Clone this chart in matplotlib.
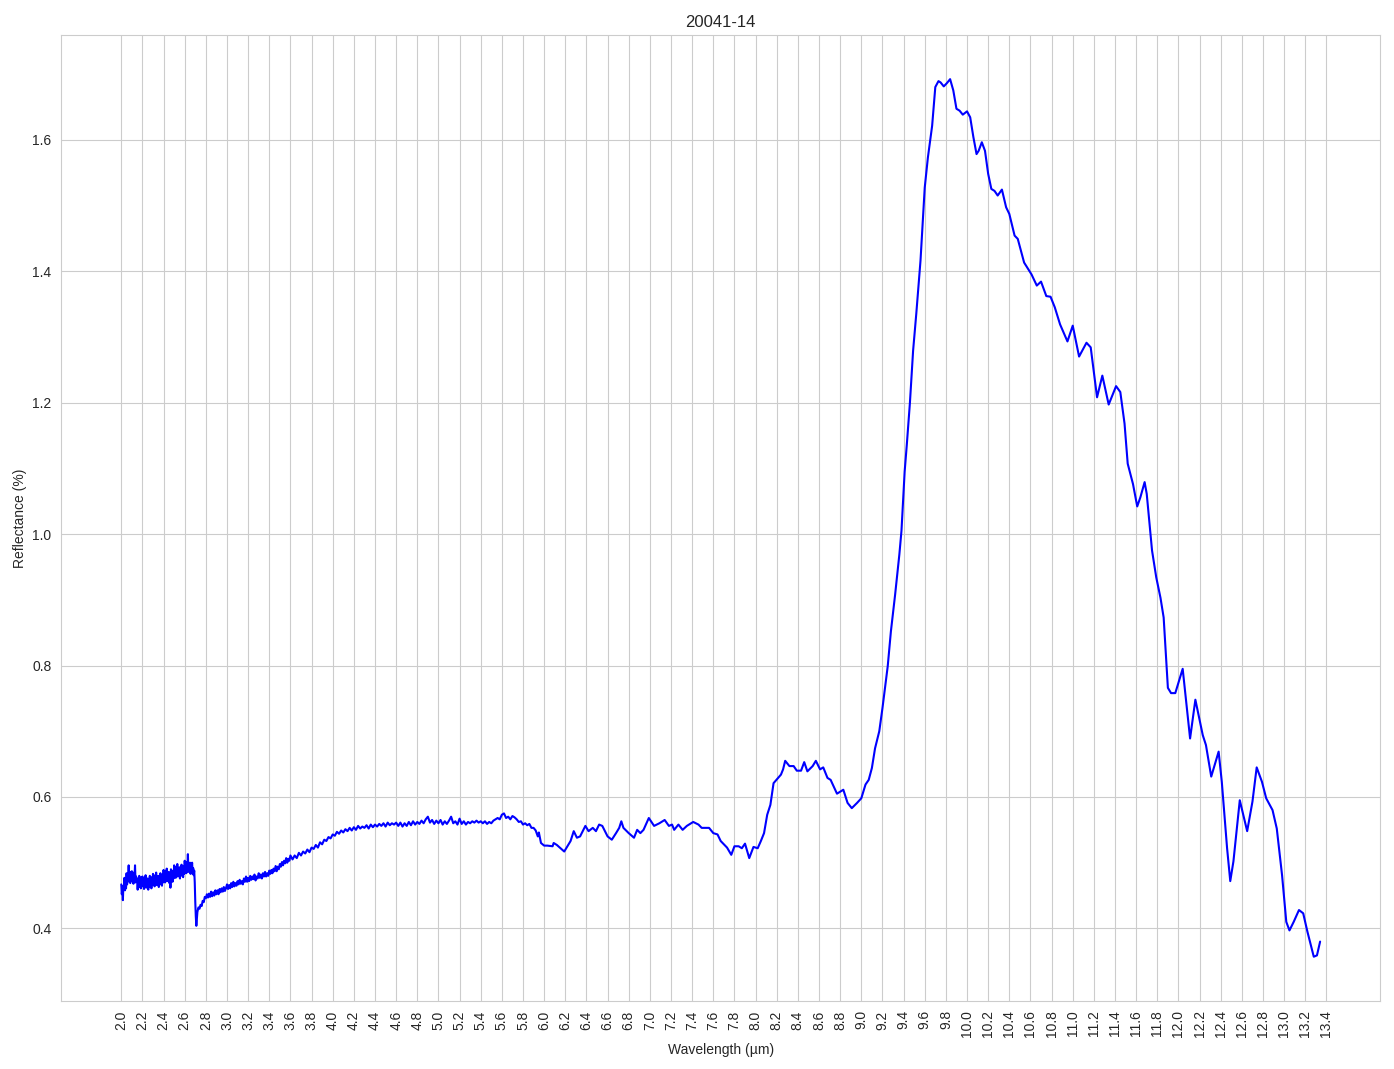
import numpy as np
import matplotlib
matplotlib.use("Agg")
import matplotlib.pyplot as plt
import seaborn as sns

sample_name = "20041-14"

# noisy start of the spectrum (2.0 - 2.7 um)
wl_a = [2.000, 2.005, 2.010, 2.015, 2.020, 2.025, 2.030, 2.035, 2.040, 2.045,
        2.050, 2.055, 2.060, 2.065, 2.070, 2.075, 2.080, 2.085, 2.090, 2.095,
        2.100, 2.105, 2.110, 2.115, 2.120, 2.125, 2.130, 2.135, 2.140, 2.145,
        2.150, 2.155, 2.160, 2.165, 2.170, 2.175, 2.180, 2.185, 2.190, 2.195,
        2.200, 2.205, 2.210, 2.215, 2.220, 2.225, 2.230, 2.235, 2.240, 2.245,
        2.250, 2.255, 2.260, 2.265, 2.270, 2.275, 2.280, 2.285, 2.290, 2.295,
        2.300, 2.305, 2.310, 2.315, 2.320, 2.325, 2.330, 2.335, 2.340, 2.345,
        2.350, 2.355, 2.360, 2.365, 2.370, 2.375, 2.380, 2.385, 2.390, 2.395,
        2.400, 2.405, 2.410, 2.415, 2.420, 2.425, 2.430, 2.435, 2.440, 2.445,
        2.450, 2.455, 2.460, 2.465, 2.470, 2.475, 2.480, 2.485, 2.490, 2.495,
        2.500, 2.505, 2.510, 2.515, 2.520, 2.525, 2.530, 2.535, 2.540, 2.545,
        2.550, 2.555, 2.560, 2.565, 2.570, 2.575, 2.580, 2.585, 2.590, 2.595,
        2.600, 2.605, 2.610, 2.615, 2.620, 2.625, 2.630, 2.635, 2.640, 2.645,
        2.650, 2.655, 2.660, 2.665, 2.670, 2.675, 2.680, 2.685, 2.690, 2.695,
        2.700, 2.705]
refl_a = [0.467, 0.452, 0.461, 0.443, 0.465, 0.464, 0.477, 0.458, 0.467, 0.461,
          0.484, 0.467, 0.482, 0.475, 0.496, 0.471, 0.480, 0.469, 0.486, 0.474,
          0.487, 0.472, 0.481, 0.468, 0.485, 0.476, 0.496, 0.470, 0.479, 0.473,
          0.476, 0.459, 0.474, 0.467, 0.480, 0.463, 0.472, 0.461, 0.478, 0.466,
          0.479, 0.464, 0.473, 0.460, 0.477, 0.468, 0.481, 0.462, 0.471, 0.465,
          0.476, 0.459, 0.474, 0.467, 0.480, 0.463, 0.472, 0.461, 0.478, 0.466,
          0.483, 0.468, 0.477, 0.464, 0.481, 0.472, 0.485, 0.466, 0.475, 0.469,
          0.480, 0.463, 0.478, 0.471, 0.484, 0.467, 0.476, 0.465, 0.482, 0.470,
          0.489, 0.474, 0.483, 0.470, 0.487, 0.478, 0.491, 0.472, 0.481, 0.475,
          0.486, 0.469, 0.484, 0.462, 0.490, 0.473, 0.482, 0.471, 0.488, 0.476,
          0.496, 0.481, 0.490, 0.477, 0.494, 0.485, 0.498, 0.479, 0.488, 0.482,
          0.493, 0.476, 0.491, 0.484, 0.497, 0.480, 0.489, 0.478, 0.495, 0.483,
          0.503, 0.488, 0.497, 0.484, 0.501, 0.492, 0.513, 0.486, 0.495, 0.489,
          0.500, 0.483, 0.498, 0.491, 0.500, 0.483, 0.492, 0.481, 0.488, 0.470,
          0.440, 0.418]

# drop and slow rise (2.71 - 4.6 um)
wl_b = [2.71, 2.72, 2.73, 2.74, 2.75, 2.76, 2.77, 2.78, 2.79, 2.80,
        2.81, 2.82, 2.83, 2.84, 2.85, 2.86, 2.87, 2.88, 2.89, 2.90,
        2.91, 2.92, 2.93, 2.94, 2.95, 2.96, 2.97, 2.98, 2.99, 3.00,
        3.01, 3.02, 3.03, 3.04, 3.05, 3.06, 3.07, 3.08, 3.09, 3.10,
        3.11, 3.12, 3.13, 3.14, 3.15, 3.16, 3.17, 3.18, 3.19, 3.20,
        3.21, 3.22, 3.23, 3.24, 3.25, 3.26, 3.27, 3.28, 3.29, 3.30,
        3.31, 3.32, 3.33, 3.34, 3.35, 3.36, 3.37, 3.38, 3.39, 3.40,
        3.41, 3.42, 3.43, 3.44, 3.45, 3.46, 3.47, 3.48, 3.49, 3.50,
        3.51, 3.52, 3.53, 3.54, 3.55, 3.56, 3.57, 3.58, 3.59, 3.60,
        3.62, 3.64, 3.66, 3.68, 3.70, 3.72, 3.74, 3.76, 3.78, 3.80,
        3.82, 3.84, 3.86, 3.88, 3.90, 3.92, 3.94, 3.96, 3.98, 4.00,
        4.02, 4.04, 4.06, 4.08, 4.10, 4.12, 4.14, 4.16, 4.18, 4.20,
        4.22, 4.24, 4.26, 4.28, 4.30, 4.32, 4.34, 4.36, 4.38, 4.40,
        4.42, 4.44, 4.46, 4.48, 4.50, 4.52, 4.54, 4.56, 4.58, 4.60]
refl_b = [0.404, 0.425, 0.432, 0.430, 0.436, 0.434, 0.442, 0.440, 0.448, 0.446,
          0.452, 0.447, 0.453, 0.448, 0.456, 0.449, 0.455, 0.450, 0.458, 0.452,
          0.458, 0.452, 0.460, 0.455, 0.461, 0.456, 0.463, 0.457, 0.461, 0.467,
          0.460, 0.466, 0.461, 0.469, 0.463, 0.471, 0.464, 0.469, 0.465, 0.472,
          0.467, 0.474, 0.468, 0.472, 0.467, 0.476, 0.471, 0.479, 0.471, 0.477,
          0.472, 0.480, 0.474, 0.479, 0.475, 0.482, 0.473, 0.479, 0.476, 0.484,
          0.477, 0.482, 0.476, 0.484, 0.479, 0.486, 0.479, 0.484, 0.480, 0.488,
          0.483, 0.489, 0.484, 0.491, 0.487, 0.495, 0.487, 0.494, 0.490, 0.498,
          0.494, 0.501, 0.496, 0.503, 0.499, 0.507, 0.500, 0.506, 0.503, 0.511,
          0.505, 0.511, 0.507, 0.515, 0.511, 0.517, 0.514, 0.520, 0.516, 0.523,
          0.521, 0.527, 0.523, 0.531, 0.528, 0.535, 0.533, 0.539, 0.537, 0.543,
          0.541, 0.547, 0.544, 0.549, 0.546, 0.551, 0.548, 0.553, 0.549, 0.554,
          0.550, 0.556, 0.552, 0.555, 0.553, 0.557, 0.552, 0.558, 0.554, 0.558,
          0.555, 0.559, 0.556, 0.560, 0.555, 0.561, 0.557, 0.560, 0.558, 0.561]

# 4.6 - 5.9 um plateau
wl_c = [4.62, 4.64, 4.66, 4.68, 4.70, 4.72, 4.74, 4.76, 4.78, 4.80,
        4.82, 4.84, 4.86, 4.88, 4.90, 4.92, 4.94, 4.96, 4.98, 5.00,
        5.02, 5.04, 5.06, 5.08, 5.10, 5.12, 5.14, 5.16, 5.18, 5.20,
        5.22, 5.24, 5.26, 5.28, 5.30, 5.32, 5.34, 5.36, 5.38, 5.40,
        5.42, 5.44, 5.46, 5.48, 5.50, 5.52, 5.54, 5.56, 5.58, 5.60,
        5.62, 5.64, 5.66, 5.68, 5.70, 5.72, 5.74, 5.76, 5.78, 5.80,
        5.82, 5.84, 5.86, 5.88, 5.90]
refl_c = [0.556, 0.561, 0.555, 0.560, 0.556, 0.562, 0.557, 0.563, 0.558, 0.562,
          0.559, 0.564, 0.560, 0.566, 0.570, 0.561, 0.565, 0.559, 0.564, 0.560,
          0.565, 0.558, 0.563, 0.559, 0.564, 0.570, 0.560, 0.563, 0.558, 0.567,
          0.559, 0.563, 0.558, 0.562, 0.560, 0.563, 0.561, 0.564, 0.561, 0.563,
          0.560, 0.563, 0.559, 0.562, 0.560, 0.564, 0.566, 0.568, 0.566, 0.573,
          0.575, 0.568, 0.570, 0.566, 0.571, 0.569, 0.566, 0.562, 0.563, 0.558,
          0.560, 0.557, 0.559, 0.553, 0.553]

# 5.9 um to the end, smoother part
wl_d = [5.92, 5.94, 5.95, 5.97, 6.00, 6.03, 6.08, 6.09, 6.12, 6.19,
        6.22, 6.25, 6.28, 6.31, 6.34, 6.39, 6.42, 6.46, 6.49, 6.52,
        6.55, 6.60, 6.64, 6.68, 6.71, 6.73, 6.75, 6.80, 6.85, 6.88,
        6.91, 6.94, 6.99, 7.04, 7.09, 7.14, 7.18, 7.21, 7.23, 7.27,
        7.31, 7.35, 7.41, 7.46, 7.49, 7.56, 7.60, 7.64, 7.67, 7.73,
        7.77, 7.80, 7.84, 7.87, 7.90, 7.94, 7.98, 8.02, 8.05, 8.08,
        8.11, 8.14, 8.17, 8.24, 8.26, 8.28, 8.32, 8.36, 8.39, 8.43,
        8.46, 8.49, 8.54, 8.57, 8.61, 8.64, 8.68, 8.71, 8.77, 8.83,
        8.87, 8.91, 8.96, 9.00, 9.04, 9.07, 9.10, 9.13, 9.17, 9.20,
        9.25, 9.28, 9.32, 9.36, 9.38, 9.41, 9.43, 9.46, 9.49, 9.52,
        9.56, 9.60, 9.63, 9.67, 9.70, 9.73, 9.75, 9.78, 9.81, 9.84,
        9.87, 9.90, 9.93, 9.96, 10.00, 10.03, 10.06, 10.09, 10.11, 10.14,
        10.17, 10.20, 10.23, 10.26, 10.29, 10.33, 10.37, 10.40, 10.45, 10.48,
        10.54, 10.61, 10.66, 10.70, 10.75, 10.79, 10.83, 10.88, 10.95, 11.00,
        11.06, 11.13, 11.17, 11.23, 11.28, 11.34, 11.41, 11.45, 11.49, 11.52,
        11.57, 11.61, 11.64, 11.68, 11.70, 11.75, 11.79, 11.83, 11.86, 11.90,
        11.93, 11.97, 12.04, 12.11, 12.16, 12.23, 12.26, 12.31, 12.38, 12.41,
        12.46, 12.49, 12.52, 12.58, 12.65, 12.70, 12.74, 12.79, 12.83, 12.89,
        12.93, 12.98, 13.02, 13.05, 13.09, 13.14, 13.18, 13.22, 13.28, 13.31,
        13.34]
refl_d = [0.549, 0.540, 0.546, 0.530, 0.526, 0.526, 0.525, 0.530, 0.527, 0.517,
          0.525, 0.533, 0.548, 0.538, 0.540, 0.556, 0.548, 0.553, 0.548, 0.558,
          0.556, 0.540, 0.535, 0.545, 0.553, 0.563, 0.553, 0.545, 0.538, 0.550,
          0.545, 0.550, 0.568, 0.556, 0.560, 0.565, 0.556, 0.558, 0.550, 0.558,
          0.550, 0.556, 0.562, 0.558, 0.553, 0.553, 0.545, 0.543, 0.533, 0.523,
          0.512, 0.525, 0.525, 0.522, 0.529, 0.507, 0.524, 0.522, 0.533, 0.545,
          0.573, 0.588, 0.621, 0.634, 0.642, 0.655, 0.647, 0.647, 0.640, 0.640,
          0.653, 0.639, 0.647, 0.655, 0.642, 0.645, 0.629, 0.626, 0.605, 0.611,
          0.591, 0.583, 0.591, 0.598, 0.619, 0.626, 0.644, 0.674, 0.700, 0.735,
          0.799, 0.852, 0.908, 0.969, 1.005, 1.095, 1.135, 1.200, 1.279, 1.335,
          1.416, 1.527, 1.573, 1.621, 1.680, 1.689, 1.687, 1.681, 1.686, 1.692,
          1.675, 1.647, 1.644, 1.638, 1.643, 1.634, 1.604, 1.578, 1.583, 1.596,
          1.583, 1.548, 1.525, 1.522, 1.515, 1.524, 1.497, 1.487, 1.454, 1.449,
          1.413, 1.395, 1.378, 1.384, 1.362, 1.361, 1.345, 1.319, 1.293, 1.317,
          1.270, 1.291, 1.284, 1.208, 1.241, 1.197, 1.225, 1.216, 1.168, 1.107,
          1.076, 1.042, 1.056, 1.079, 1.061, 0.975, 0.934, 0.903, 0.873, 0.766,
          0.758, 0.758, 0.795, 0.689, 0.748, 0.694, 0.679, 0.631, 0.669, 0.623,
          0.522, 0.472, 0.502, 0.595, 0.548, 0.593, 0.645, 0.623, 0.598, 0.580,
          0.552, 0.481, 0.410, 0.397, 0.410, 0.428, 0.423, 0.395, 0.357, 0.359,
          0.380]

wavelength = wl_a + wl_b + wl_c + wl_d
reflectance = refl_a + refl_b + refl_c + refl_d

xticks = np.round(np.arange(2.0, 13.41, 0.2), 1)

sns.set_style("whitegrid")
plt.rcParams["font.family"] = ["Liberation Sans", "DejaVu Sans"]

fig, ax = plt.subplots(figsize=(13.94, 10.69), dpi=100)
ax.plot(wavelength, reflectance, color="blue", linewidth=1.5)
ax.set_xticks(xticks)
ax.set_xticklabels(["%.1f" % t for t in xticks], rotation=90)
ax.set_title(sample_name)
ax.set_xlabel("Wavelength (µm)")
ax.set_ylabel("Reflectance (%)")

fig.subplots_adjust(left=0.044, right=0.99, top=0.967, bottom=0.064)
plt.savefig("out.png")
